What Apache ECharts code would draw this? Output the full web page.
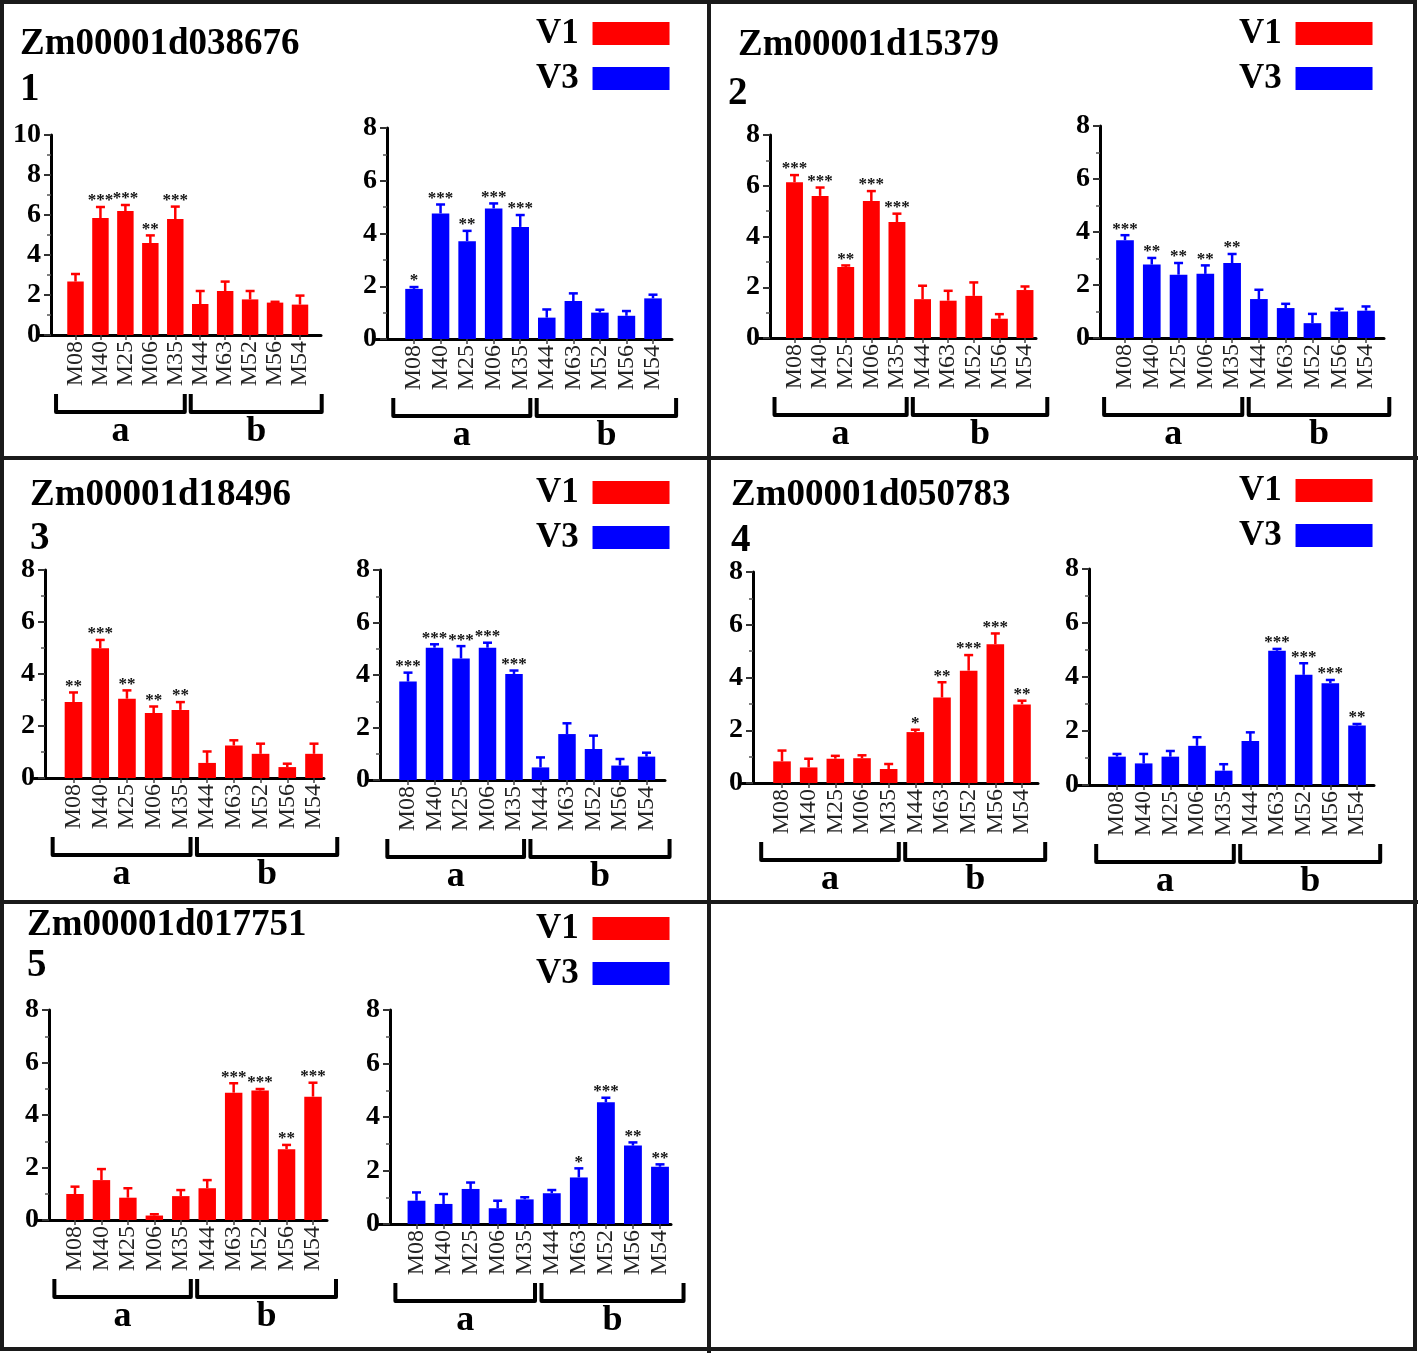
<!DOCTYPE html>
<html>
<head>
<meta charset="utf-8">
<title>V1 / V3 expression</title>
<script src="https://cdn.jsdelivr.net/npm/echarts@6/dist/echarts.min.js"></script>
<style>
  html, body { margin: 0; padding: 0; background: #fff; }
  #main { width: 1418px; height: 1353px; }
</style>
</head>
<body>
<div id="main"></div>
<script>
// 样本 / 基因
const categories = ['M08', 'M40', 'M25', 'M06', 'M35', 'M44', 'M63', 'M52', 'M56', 'M54'];
const groupLabels = ['a', 'b'];
const genes = ['Zm00001d038676', 'Zm00001d15379', 'Zm00001d18496', 'Zm00001d050783', 'Zm00001d017751'];
const panelNumbers = ['1', '2', '3', '4', '5'];
const seriesNames = ['V1', 'V3'];

// 1
const p1V1 = [2.67, 5.85, 6.2, 4.6, 5.8, 1.55, 2.2, 1.78, 1.62, 1.52];
const p1V1Err = [0.38, 0.55, 0.3, 0.38, 0.62, 0.65, 0.47, 0.42, 0.04, 0.45];
const p1V1Sig = ['', '***', '***', '**', '***', '', '', '', '', ''];
const p1V3 = [1.9, 4.76, 3.71, 4.95, 4.25, 0.81, 1.44, 1.0, 0.88, 1.54];
const p1V3Err = [0.07, 0.34, 0.39, 0.19, 0.45, 0.31, 0.29, 0.11, 0.18, 0.14];
const p1V3Sig = ['*', '***', '**', '***', '***', '', '', '', '', ''];
// 2
const p2V1 = [6.14, 5.6, 2.8, 5.4, 4.57, 1.53, 1.47, 1.66, 0.76, 1.89];
const p2V1Err = [0.28, 0.33, 0.06, 0.39, 0.33, 0.53, 0.39, 0.53, 0.18, 0.14];
const p2V1Sig = ['***', '***', '**', '***', '***', '', '', '', '', ''];
const p2V3 = [3.69, 2.77, 2.39, 2.42, 2.83, 1.47, 1.13, 0.56, 1.0, 1.03];
const p2V3Err = [0.19, 0.25, 0.44, 0.32, 0.34, 0.35, 0.16, 0.35, 0.1, 0.16];
const p2V3Sig = ['***', '**', '**', '**', '**', '', '', '', '', ''];
// 3
const p3V1 = [2.92, 4.99, 3.05, 2.5, 2.62, 0.58, 1.25, 0.93, 0.42, 0.93];
const p3V1Err = [0.37, 0.32, 0.32, 0.25, 0.3, 0.44, 0.2, 0.39, 0.13, 0.39];
const p3V1Sig = ['**', '***', '**', '**', '**', '', '', '', '', ''];
const p3V3 = [3.75, 5.04, 4.63, 5.04, 4.04, 0.48, 1.75, 1.18, 0.55, 0.89];
const p3V3Err = [0.34, 0.13, 0.47, 0.19, 0.13, 0.38, 0.41, 0.51, 0.25, 0.15];
const p3V3Sig = ['***', '***', '***', '***', '***', '', '', '', '', ''];
// 4
const p4V1 = [0.82, 0.59, 0.92, 0.94, 0.53, 1.93, 3.24, 4.26, 5.26, 2.98];
const p4V1Err = [0.41, 0.33, 0.11, 0.11, 0.19, 0.09, 0.58, 0.59, 0.41, 0.14];
const p4V1Sig = ['', '', '', '', '', '*', '**', '***', '***', '**'];
const p4V3 = [1.05, 0.8, 1.05, 1.45, 0.53, 1.63, 4.97, 4.08, 3.77, 2.2];
const p4V3Err = [0.1, 0.35, 0.21, 0.32, 0.24, 0.32, 0.07, 0.43, 0.12, 0.06];
const p4V3Sig = ['', '', '', '', '', '', '***', '***', '***', '**'];
// 5
const p5V1 = [0.99, 1.52, 0.85, 0.17, 0.91, 1.21, 4.85, 4.93, 2.7, 4.7];
const p5V1Err = [0.28, 0.42, 0.36, 0.05, 0.23, 0.31, 0.36, 0.06, 0.16, 0.53];
const p5V1Sig = ['', '', '', '', '', '', '***', '***', '**', '***'];
const p5V3 = [0.87, 0.75, 1.31, 0.59, 0.92, 1.15, 1.74, 4.55, 2.93, 2.14];
const p5V3Err = [0.31, 0.37, 0.24, 0.28, 0.08, 0.12, 0.34, 0.17, 0.12, 0.09];
const p5V3Sig = ['', '', '', '', '', '', '*', '***', '**', '**'];

const yMaxes = [10, 8, 8, 8, 8, 8, 8, 8, 8, 8];

const charts = [
  [p1V1, p1V1Err, p1V1Sig], [p1V3, p1V3Err, p1V3Sig],
  [p2V1, p2V1Err, p2V1Sig], [p2V3, p2V3Err, p2V3Sig],
  [p3V1, p3V1Err, p3V1Sig], [p3V3, p3V3Err, p3V3Sig],
  [p4V1, p4V1Err, p4V1Sig], [p4V3, p4V3Err, p4V3Sig],
  [p5V1, p5V1Err, p5V1Sig], [p5V3, p5V3Err, p5V3Sig]
];

// 版面: y轴位置, 第一/最后一根柱中心, x轴终点, 0和顶端的像素
const layouts = [
  { axisX: 51, firstX: 75.5, lastX: 300, endX: 321, zeroY: 335, topY: 135 },
  { axisX: 387, firstX: 414, lastX: 653, endX: 672, zeroY: 339, topY: 128 },
  { axisX: 770, firstX: 794.5, lastX: 1025, endX: 1036, zeroY: 338, topY: 135 },
  { axisX: 1100, firstX: 1125, lastX: 1366, endX: 1384, zeroY: 338, topY: 126 },
  { axisX: 45, firstX: 73.5, lastX: 314, endX: 324, zeroY: 778, topY: 570 },
  { axisX: 380, firstX: 408, lastX: 646.5, endX: 665, zeroY: 780, topY: 570 },
  { axisX: 753, firstX: 782, lastX: 1022, endX: 1038, zeroY: 783, topY: 572 },
  { axisX: 1089, firstX: 1117, lastX: 1357, endX: 1374, zeroY: 785, topY: 569 },
  { axisX: 49, firstX: 75, lastX: 313, endX: 327, zeroY: 1220, topY: 1010 },
  { axisX: 390, firstX: 416.5, lastX: 660, endX: 671, zeroY: 1224, topY: 1010 }
];
const xLead = 11; // x轴在y轴左边多出的一段
// 标题 [x, 标题中心y, 编号x, 编号中心y], 图例 [left, top]
const headers = [
  [20, 44, 20, 90], [738, 45, 728, 94], [30, 495, 30, 539], [731, 495, 731, 541], [27, 925, 27, 966]
];
const legendPos = [[536, 16], [1239, 16], [536, 475], [1239, 473], [536, 911]];

const FONT = 'Liberation Serif';
const colors = ['#ff0000', '#0000ff'];
const idx = categories.map((c, i) => i);

const chart = echarts.init(document.getElementById('main'));

const grids = [], xAxes = [], yAxes = [], series = [];
layouts.forEach((l, k) => {
  const s = (l.lastX - l.firstX) / 9;
  const left = l.axisX - xLead;
  grids.push({ left: left, top: l.topY, width: l.endX - left, height: l.zeroY - l.topY });
  xAxes.push({
    type: 'value', gridIndex: k,
    min: -(l.firstX - left) / s, max: 9 + (l.endX - l.lastX) / s,
    axisLine: { show: true, onZero: false, lineStyle: { color: '#000', width: 3 } },
    axisTick: { show: true, customValues: idx, length: 5, lineStyle: { color: '#444', width: 1.5 } },
    axisLabel: {
      customValues: idx, formatter: v => categories[v], rotate: 90, margin: 6,
      fontFamily: FONT, fontSize: 24, color: '#222'
    },
    splitLine: { show: false }
  });
  yAxes.push({
    type: 'value', gridIndex: k, min: 0, max: yMaxes[k], interval: 2, offset: -xLead,
    axisLine: { show: true, onZero: false, lineStyle: { color: '#000', width: 3 } },
    axisTick: { show: true, length: 7, lineStyle: { color: '#333', width: 2 } },
    minorTick: { show: true, splitNumber: 2, length: 4, lineStyle: { color: '#555', width: 1.5 } },
    splitLine: { show: false },
    axisLabel: { fontFamily: FONT, fontWeight: 'bold', fontSize: 28, color: '#000', margin: 10 }
  });

  const [mean, err, sig] = charts[k];
  const color = colors[k % 2];
  series.push({
    type: 'bar', name: seriesNames[k % 2], xAxisIndex: k, yAxisIndex: k,
    barWidth: 0.66 * s,
    itemStyle: { color: color },
    data: mean.map((v, i) => [i, v])
  });
  // 误差线 + 显著性
  series.push({
    type: 'custom', name: seriesNames[k % 2] + ' err', xAxisIndex: k, yAxisIndex: k,
    encode: { x: 0, y: 1 }, z: 3,
    data: mean.map((v, i) => [i, v, err[i]]),
    renderItem: (params, api) => {
      const x = api.value(0), y = api.value(1), e = api.value(2);
      const base = api.coord([x, y]);
      const top = api.coord([x, y + e]);
      const children = [
        { type: 'line', shape: { x1: base[0], y1: base[1], x2: top[0], y2: top[1] }, style: { stroke: color, lineWidth: 2.5 } },
        { type: 'line', shape: { x1: top[0] - 4.5, y1: top[1], x2: top[0] + 4.5, y2: top[1] }, style: { stroke: color, lineWidth: 2.5 } }
      ];
      const star = sig[params.dataIndex];
      if (star) {
        children.push({
          type: 'text', x: top[0], y: top[1] - 6,
          style: { text: star, font: 'bold 17px "' + FONT + '"', fill: '#111', align: 'center', verticalAlign: 'middle' }
        });
      }
      return { type: 'group', children: children };
    }
  });
});

chart.setOption({
  animation: false,
  backgroundColor: '#fff',
  grid: grids,
  xAxis: xAxes,
  yAxis: yAxes,
  legend: legendPos.map(p => ({
    data: seriesNames, orient: 'vertical', align: 'right', left: p[0], top: p[1],
    icon: 'rect', itemWidth: 77, itemHeight: 23, itemGap: 10, padding: 0, selectedMode: false,
    formatter: n => n + ' ',
    textStyle: { fontFamily: FONT, fontWeight: 'bold', fontSize: 35, color: '#000' }
  })),
  series: series
});

// 边框, 标题, 括号
const graphics = [
  { type: 'rect', shape: { x: 2, y: 2, width: 1413, height: 1347 }, style: { fill: 'none', stroke: '#1a1a1a', lineWidth: 4 } },
  { type: 'line', shape: { x1: 709, y1: 0, x2: 709, y2: 1353 }, style: { stroke: '#1a1a1a', lineWidth: 4 } },
  { type: 'line', shape: { x1: 0, y1: 458, x2: 1418, y2: 458 }, style: { stroke: '#1a1a1a', lineWidth: 4 } },
  { type: 'line', shape: { x1: 0, y1: 902, x2: 1418, y2: 902 }, style: { stroke: '#1a1a1a', lineWidth: 4 } }
];
headers.forEach((h, p) => {
  graphics.push({ type: 'text', x: h[0], y: h[1], style: { text: genes[p], font: 'bold 37px "' + FONT + '"', fill: '#000', verticalAlign: 'middle' } });
  graphics.push({ type: 'text', x: h[2], y: h[3], style: { text: panelNumbers[p], font: 'bold 39px "' + FONT + '"', fill: '#000', verticalAlign: 'middle' } });
});
layouts.forEach((l, k) => {
  const px = i => chart.convertToPixel({ xAxisIndex: k }, i);
  const y0 = chart.convertToPixel({ yAxisIndex: k }, 0);
  const s = px(1) - px(0);
  const spans = [[px(0) - 0.78 * s, px(4) + 0.38 * s], [px(5) - 0.38 * s, px(9) + 0.87 * s]];
  spans.forEach((sp, g) => {
    graphics.push({
      type: 'polyline',
      shape: { points: [[sp[0], y0 + 59], [sp[0], y0 + 77], [sp[1], y0 + 77], [sp[1], y0 + 59]] },
      style: { stroke: '#000', lineWidth: 4, lineJoin: 'round', fill: 'none' }
    });
    graphics.push({
      type: 'text', x: (sp[0] + sp[1]) / 2, y: y0 + 97,
      style: { text: groupLabels[g], font: 'bold 36px "' + FONT + '"', fill: '#000', align: 'center', verticalAlign: 'middle' }
    });
  });
});
chart.setOption({ graphic: graphics });
</script>
</body>
</html>
